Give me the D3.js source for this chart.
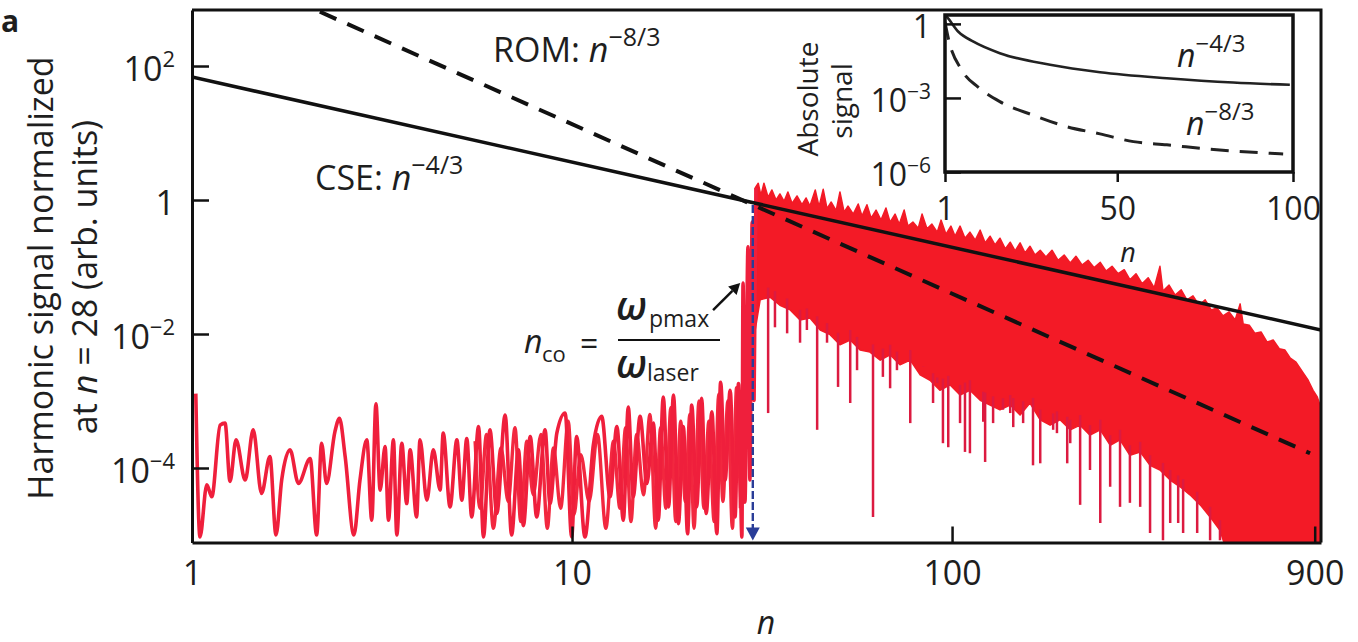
<!DOCTYPE html>
<html><head><meta charset="utf-8">
<script src="https://cdn.jsdelivr.net/npm/d3@7"></script>
<style>
body{margin:0;background:#fff;}
svg{display:block;}
text{font-family:"Open Sans",sans-serif;fill:#1e1e1e;}
</style>
</head><body>
<svg id="c" width="1358" height="642"></svg>
<script>
// ---------------- data ----------------
const xTicks = [1, 10, 100, 900];
const yTicks = [1e2, 1, 1e-2, 1e-4];
const yTickLabels = [["10","2"],["1",""],["10","−2"],["10","−4"]];

// CSE n^-4/3 and ROM n^-8/3 guide lines (end points)
const cseN = [1, 935], cseV = [68.5, 0.0115];
const romN = [2.17, 875], romV = [646, 1.66e-4];

// cut-off marker
const ncoN = 29.9, ncoTop = 0.84;
const arrowN = [23.5, 27.7], arrowV = [0.0228, 0.0577];

// spectrum below cut-off (log10 n, log10 signal)
const specLogN = [0.010,0.021,0.039,0.052,0.074,0.087,0.100,0.116,0.140,0.161,0.183,0.205,0.221,0.236,0.258,0.280,0.311,0.328,0.341,0.354,0.376,0.388,0.403,0.426,0.442,0.460,0.473,0.484,0.495,0.508,0.517,0.530,0.539,0.552,0.565,0.574,0.591,0.600,0.618,0.635,0.653,0.661,0.679,0.697,0.710,0.723,0.736,0.754,0.767,0.784,0.802,0.824,0.841,0.859,0.872,0.890,0.907,0.929,0.942,0.960,0.982,0.999,1.012,1.034,1.056,1.078,1.100,1.118,1.135,1.148,1.161,1.179,1.197,1.214,1.227,1.240,1.254,1.267,1.280,1.293,1.304,1.315,1.328,1.341,1.353,1.368,1.381,1.391,1.403,1.416,1.429,1.438,1.447,1.450,1.455,1.463,1.468,1.474,1.479,1.484];
const specLogS = [-2.89,-5.03,-4.25,-4.43,-3.36,-3.33,-4.20,-3.58,-4.18,-3.43,-4.38,-3.83,-5.00,-4.18,-3.73,-4.23,-3.86,-5.00,-3.63,-4.23,-3.46,-3.26,-3.83,-5.00,-4.18,-3.58,-4.78,-3.04,-4.33,-3.68,-4.78,-3.58,-5.00,-3.63,-4.53,-3.73,-4.73,-3.58,-4.48,-3.73,-4.33,-3.48,-4.58,-3.58,-4.48,-3.56,-4.73,-3.38,-5.03,-3.43,-4.68,-3.21,-5.00,-3.73,-4.86,-3.53,-4.73,-3.43,-4.53,-3.48,-3.18,-5.03,-3.53,-5.03,-3.66,-3.23,-4.43,-3.38,-4.78,-3.09,-4.43,-3.23,-4.23,-3.33,-4.78,-2.94,-4.58,-2.91,-4.83,-3.38,-4.98,-3.06,-4.58,-2.96,-4.68,-3.16,-4.98,-2.72,-4.18,-2.84,-4.73,-2.74,-5.03,-1.24,-4.51,-0.70,-4.18,-0.33,-2.99,0.18];
// denser oscillations underneath, 5 < n < 28
const spec2LogN = [0.745,0.758,0.775,0.793,0.813,0.832,0.850,0.865,0.881,0.898,0.918,0.935,0.951,0.970,0.990,1.005,1.023,1.045,1.067,1.089,1.109,1.126,1.141,1.155,1.170,1.188,1.205,1.220,1.233,1.247,1.260,1.273,1.286,1.298,1.310,1.321,1.334,1.347,1.360,1.374,1.386,1.397,1.410,1.422,1.433,1.443];
const spec2LogS = [-3.6,-4.6,-3.5,-4.9,-3.7,-4.5,-3.4,-4.8,-3.6,-4.4,-3.5,-4.9,-3.7,-4.6,-3.3,-4.7,-3.8,-4.5,-3.5,-4.9,-3.6,-4.6,-3.4,-4.8,-3.5,-4.4,-3.2,-4.9,-3.4,-4.6,-3.1,-4.8,-3.3,-4.5,-3.2,-4.9,-3.0,-4.6,-3.3,-4.8,-2.9,-4.5,-3.0,-4.9,-2.8,-4.6];

// spectrum above cut-off: upper envelope
const bandTopLogN = [1.482,1.490,1.497,1.505,1.516,1.526,1.537,1.547,1.558,1.568,1.579,1.592,1.605,1.616,1.626,1.640,1.650,1.661,1.671,1.682,1.695,1.705,1.716,1.726,1.740,1.753,1.763,1.776,1.787,1.800,1.813,1.826,1.837,1.850,1.861,1.874,1.884,1.897,1.911,1.921,1.934,1.947,1.961,1.971,1.984,1.997,2.008,2.021,2.034,2.047,2.061,2.074,2.087,2.100,2.113,2.126,2.140,2.153,2.166,2.179,2.192,2.205,2.218,2.232,2.247,2.263,2.279,2.295,2.311,2.326,2.342,2.358,2.374,2.390,2.405,2.421,2.437,2.453,2.468,2.484,2.500,2.516,2.532,2.547,2.555,2.571,2.587,2.603,2.618,2.634,2.650,2.666,2.682,2.697,2.713,2.729,2.745,2.758,2.766,2.782,2.797,2.813,2.829,2.845,2.861,2.876,2.890,2.905,2.924,2.937,2.950,2.961,2.968];
const bandTopLogS = [0.18,0.25,0.07,0.25,0.04,0.15,0.00,0.09,-0.02,0.12,-0.05,0.06,-0.07,0.03,-0.09,0.15,-0.10,0.16,-0.13,-0.03,-0.16,0.12,-0.18,-0.09,-0.21,-0.06,-0.24,-0.07,-0.27,-0.15,-0.30,-0.12,-0.33,-0.21,-0.36,-0.15,-0.39,-0.33,-0.42,-0.21,-0.43,-0.36,-0.48,-0.30,-0.51,-0.39,-0.54,-0.39,-0.57,-0.48,-0.60,-0.45,-0.64,-0.54,-0.67,-0.57,-0.73,-0.63,-0.76,-0.64,-0.79,-0.69,-0.82,-0.75,-0.85,-0.75,-0.90,-0.82,-0.94,-0.84,-0.97,-0.90,-1.01,-0.93,-1.06,-0.99,-1.10,-1.04,-1.19,-1.10,-1.25,-1.16,-1.31,-0.99,-1.36,-1.27,-1.42,-1.34,-1.49,-1.43,-1.57,-1.49,-1.64,-1.61,-1.73,-1.67,-1.79,-1.55,-1.85,-1.87,-1.99,-1.97,-2.12,-2.09,-2.22,-2.24,-2.36,-2.42,-2.58,-2.69,-2.84,-2.94,-3.06];
// spectrum above cut-off: lower edge of the dense part
const bandBotLogN = [1.482,1.495,1.521,1.547,1.574,1.600,1.626,1.653,1.679,1.705,1.732,1.758,1.784,1.811,1.837,1.863,1.890,1.916,1.942,1.968,1.995,2.021,2.047,2.074,2.100,2.126,2.153,2.179,2.205,2.232,2.258,2.284,2.311,2.337,2.363,2.390,2.416,2.442,2.468,2.495,2.521,2.547,2.574,2.600,2.626,2.653,2.679,2.705,2.726,2.97];
const bandBotLogS = [-1.94,-1.49,-1.45,-1.57,-1.64,-1.79,-1.76,-1.94,-2.01,-2.16,-2.09,-2.24,-2.27,-2.39,-2.31,-2.46,-2.39,-2.61,-2.69,-2.84,-2.76,-2.91,-2.84,-2.99,-3.06,-3.13,-3.06,-3.21,-3.03,-3.28,-3.36,-3.28,-3.43,-3.36,-3.51,-3.43,-3.66,-3.58,-3.81,-3.76,-3.96,-4.03,-4.18,-4.28,-4.40,-4.55,-4.73,-4.93,-5.3,-5.3];
// downward dips
const spikeLogN = [1.516,1.534,1.566,1.600,1.618,1.645,1.671,1.700,1.732,1.750,1.792,1.818,1.837,1.855,1.890,1.924,1.950,1.961,1.976,1.990,2.021,2.034,2.047,2.082,2.087,2.108,2.134,2.153,2.161,2.187,2.213,2.232,2.266,2.276,2.303,2.311,2.337,2.363,2.390,2.416,2.442,2.468,2.495,2.521,2.555,2.574,2.595,2.608,2.645,2.679,2.705];
const spikeLogS = [-3.18,-1.90,-1.99,-2.13,-1.94,-3.43,-2.13,-2.79,-3.03,-2.54,-4.73,-2.64,-2.81,-2.54,-3.33,-2.49,-3.03,-2.73,-3.63,-3.69,-3.33,-3.76,-3.78,-3.31,-3.91,-3.33,-3.13,-3.18,-3.39,-3.33,-3.96,-3.93,-3.43,-3.48,-3.93,-3.63,-4.55,-4.03,-4.82,-4.28,-4.58,-4.52,-4.58,-4.97,-5.08,-4.82,-4.82,-4.97,-4.97,-5.08,-5.08];

// inset
const insetXTicks = [1, 50, 100];
const insetYTicks = [1, 1e-3, 1e-6];
const insetYLabels = [["1",""],["10","−3"],["10","−6"]];
const insetSolidN = [1, 1.48, 4.8, 9.1, 16.6, 30.9, 45.1, 64.1, 83.0, 99.1];
const insetSolidV = [2.3, 1.95, 0.48, 0.19, 0.065, 0.022, 0.011, 0.0063, 0.0042, 0.0034];
const insetDashN = [1, 1.95, 5.74, 10.5, 16.6, 26.1, 35.6, 45.1, 54.6, 64.1, 78.3, 97.2];
const insetDashV = [1.2, 0.26, 0.0135, 0.0027, 7.1e-4, 2.0e-4, 6.9e-5, 3.5e-5, 1.7e-5, 1.26e-5, 7.9e-6, 5.4e-6];

// ---------------- drawing ----------------
const svg = d3.select("#c");
const P = {l:192, r:1321, t:10, b:542.5};
const x = d3.scaleLog().domain([1, 935]).range([P.l, P.r]);
const y = d3.scaleLog().domain([Math.pow(10,-5.112), Math.pow(10,2.836)]).range([P.b, P.t]);
const p10 = v => Math.pow(10, v);

svg.append("defs").append("clipPath").attr("id","clip")
  .append("rect").attr("x",P.l).attr("y",P.t).attr("width",P.r-P.l).attr("height",P.b-P.t);
const plot = svg.append("g").attr("clip-path","url(#clip)");

const RED = "#f31a26";
const topPts = bandTopLogN.map((n,i)=>[p10(n), p10(bandTopLogS[i])]);
const botPts = bandBotLogN.map((n,i)=>[p10(n), p10(bandBotLogS[i])]);
const poly = topPts.concat(botPts.slice().reverse());
const lineXY = d3.line().x(d=>x(d[0])).y(d=>y(d[1]));
const smoothXY = d3.line().x(d=>x(d[0])).y(d=>y(d[1])).curve(d3.curveMonotoneX);

plot.append("path")
  .attr("d", smoothXY(spec2LogN.map((n,i)=>[p10(n), p10(spec2LogS[i])])))
  .attr("fill","none").attr("stroke","#f2283f").attr("stroke-width",3.4).attr("stroke-linejoin","round");

plot.append("path").attr("d", lineXY(poly)+"Z").attr("fill",RED).attr("stroke",RED).attr("stroke-width",1.5).attr("stroke-linejoin","round");

const botInterp = d3.scaleLinear().domain(bandBotLogN).range(bandBotLogS);
plot.append("g").selectAll("line").data(spikeLogN.map((n,i)=>[n, spikeLogS[i]]))
  .join("line")
  .attr("x1", d=>x(p10(d[0]))).attr("x2", d=>x(p10(d[0])))
  .attr("y1", d=>y(p10(botInterp(d[0])+0.15))).attr("y2", d=>y(p10(d[1])))
  .attr("stroke","#dc1a40").attr("stroke-width",2.5);

plot.append("path")
  .attr("d", smoothXY(specLogN.map((n,i)=>[p10(n), p10(specLogS[i])])))
  .attr("fill","none").attr("stroke","#ef1f3c").attr("stroke-width",3.6).attr("stroke-linejoin","round");

plot.append("path").attr("d", lineXY(cseN.map((n,i)=>[n,cseV[i]])))
  .attr("fill","none").attr("stroke","#111").attr("stroke-width",3.5);
plot.append("path").attr("d", lineXY(romN.map((n,i)=>[n,romV[i]])))
  .attr("fill","none").attr("stroke","#111").attr("stroke-width",4).attr("stroke-dasharray","18,12");

const BLUE = "#2a3d98";
svg.append("line").attr("x1",x(ncoN)).attr("x2",x(ncoN)).attr("y1",y(ncoTop)).attr("y2",P.b-12)
  .attr("stroke",BLUE).attr("stroke-width",2.4).attr("stroke-dasharray","8,3");
svg.append("path")
  .attr("d",`M${x(ncoN)-7},${P.b-15}L${x(ncoN)+7},${P.b-15}L${x(ncoN)},${P.b-2}Z`)
  .attr("fill",BLUE);

{
  const x1=x(arrowN[0]), y1=y(arrowV[0]), x2=x(arrowN[1]), y2=y(arrowV[1]);
  const ang=Math.atan2(y2-y1,x2-x1), L=11, W=6;
  const bx=x2-L*Math.cos(ang), by=y2-L*Math.sin(ang);
  svg.append("line").attr("x1",x1).attr("y1",y1).attr("x2",bx).attr("y2",by).attr("stroke","#111").attr("stroke-width",2.5);
  svg.append("path").attr("d",`M${x2},${y2}L${bx+W*Math.sin(ang)},${by-W*Math.cos(ang)}L${bx-W*Math.sin(ang)},${by+W*Math.cos(ang)}Z`).attr("fill","#111");
}

const gx = svg.append("g").attr("transform",`translate(0,${P.b})`)
  .call(d3.axisBottom(x).tickValues(xTicks).tickFormat(d3.format("d")).tickSizeInner(-16).tickSizeOuter(0).tickPadding(18));
const gy = svg.append("g").attr("transform",`translate(${P.l},0)`)
  .call(d3.axisLeft(y).tickValues(yTicks).tickSizeInner(-17).tickSizeOuter(0).tickPadding(17));
[gx,gy].forEach(g=>{
  g.select(".domain").attr("stroke","#111").attr("stroke-width",3);
  g.selectAll(".tick line").attr("stroke","#111").attr("stroke-width",2.5);
  g.selectAll("text").attr("font-size",34).attr("fill","#1e1e1e").attr("font-family","Open Sans");
});
gy.selectAll(".tick text").each(function(d,i){
  const t=d3.select(this); t.text(null).attr("dy","0.42em");
  t.append("tspan").text(yTickLabels[i][0]);
  if(yTickLabels[i][1]) t.append("tspan").attr("font-size",22).attr("dy","-0.62em").text(yTickLabels[i][1]);
});
svg.append("path").attr("d",`M${P.l},${P.t}H${P.r}V${P.b}`).attr("fill","none").attr("stroke","#111").attr("stroke-width",3);

svg.append("text").attr("x",1).attr("y",32).attr("font-size",30).attr("font-weight",700).text("a");
svg.append("text").attr("transform","translate(53,278) rotate(-90)").attr("text-anchor","middle").attr("font-size",34)
  .text("Harmonic signal normalized");
{
  const t=svg.append("text").attr("transform","translate(97,277) rotate(-90)").attr("text-anchor","middle").attr("font-size",34);
  t.append("tspan").text("at ");
  t.append("tspan").attr("font-style","italic").text("n");
  t.append("tspan").text(" = 28 (arb. units)");
}
svg.append("text").attr("x",766).attr("y",634).attr("text-anchor","middle").attr("font-size",32).attr("font-style","italic").text("n");

function powLabel(xp, yp, pre, sup, fs, sfs){
  const t=svg.append("text").attr("x",xp).attr("y",yp).attr("font-size",fs);
  if(pre) t.append("tspan").text(pre);
  t.append("tspan").attr("font-style","italic").text("n");
  t.append("tspan").attr("font-size",sfs).attr("dy",-fs*0.48).text(sup);
  return t;
}
powLabel(493,62,"ROM: ","−8/3",34,25);
powLabel(315,190,"CSE: ","−4/3",34,25);

svg.append("text").attr("x",524).attr("y",353).attr("font-size",32).attr("font-style","italic").text("n");
svg.append("text").attr("x",542).attr("y",362).attr("font-size",22).text("co");
svg.append("text").attr("x",580).attr("y",355).attr("font-size",32).text("=");
svg.append("line").attr("x1",618).attr("x2",720).attr("y1",340).attr("y2",340).attr("stroke","#111").attr("stroke-width",2.2);
svg.append("text").attr("x",616).attr("y",320).attr("font-size",40).attr("font-style","italic").attr("font-weight",600).text("ω");
svg.append("text").attr("x",649).attr("y",327).attr("font-size",23).text("pmax");
svg.append("text").attr("x",616).attr("y",378).attr("font-size",40).attr("font-style","italic").attr("font-weight",600).text("ω");
svg.append("text").attr("x",647).attr("y",381).attr("font-size",23).text("laser");

const I = {l:945, r:1293, t:15, b:172};
const ix = d3.scaleLinear().domain([1,100]).range([I.l,I.r]);
const iy = d3.scaleLog().domain([Math.pow(10,0.36), 1e-6]).range([I.t,I.b]);
svg.append("rect").attr("x",I.l).attr("y",I.t).attr("width",I.r-I.l).attr("height",I.b-I.t).attr("fill","#fff");
svg.append("defs").append("clipPath").attr("id","iclip").append("rect").attr("x",I.l).attr("y",I.t).attr("width",I.r-I.l).attr("height",I.b-I.t);
const ig = svg.append("g").attr("clip-path","url(#iclip)");
const iline = d3.line().x(d=>ix(d[0])).y(d=>iy(d[1])).curve(d3.curveMonotoneX);
ig.append("path").attr("d",iline(insetSolidN.map((n,i)=>[n,insetSolidV[i]]))).attr("fill","none").attr("stroke","#222").attr("stroke-width",2.6);
ig.append("path").attr("d",iline(insetDashN.map((n,i)=>[n,insetDashV[i]]))).attr("fill","none").attr("stroke","#222").attr("stroke-width",3).attr("stroke-dasharray","18,11");
svg.append("rect").attr("x",I.l).attr("y",I.t).attr("width",I.r-I.l).attr("height",I.b-I.t).attr("fill","none").attr("stroke","#111").attr("stroke-width",3.5);

const igx = svg.append("g").attr("transform",`translate(0,${I.b})`)
  .call(d3.axisBottom(ix).tickValues(insetXTicks).tickFormat(d3.format("d")).tickSizeInner(10).tickSizeOuter(0).tickPadding(15));
const igy = svg.append("g").attr("transform",`translate(${I.l},0)`)
  .call(d3.axisLeft(iy).tickValues(insetYTicks).tickSizeInner(-16).tickSizeOuter(0).tickPadding(14));
[igx,igy].forEach(g=>{
  g.select(".domain").attr("stroke","none");
  g.selectAll(".tick line").attr("stroke","#111").attr("stroke-width",2.5);
  g.selectAll("text").attr("font-size",32).attr("fill","#1e1e1e").attr("font-family","Open Sans");
});
igy.selectAll(".tick text").each(function(d,i){
  const t=d3.select(this); t.text(null).attr("dy","0.42em");
  t.append("tspan").text(insetYLabels[i][0]);
  if(insetYLabels[i][1]) t.append("tspan").attr("font-size",21).attr("dy","-0.62em").text(insetYLabels[i][1]);
});
svg.append("text").attr("x",1128).attr("y",262).attr("text-anchor","middle").attr("font-size",27).attr("font-style","italic").text("n");
svg.append("text").attr("transform","translate(818,99) rotate(-90)").attr("text-anchor","middle").attr("font-size",28).text("Absolute");
svg.append("text").attr("transform","translate(852,101) rotate(-90)").attr("text-anchor","middle").attr("font-size",28).text("signal");
powLabel(1177,67,"","−4/3",32,24);
powLabel(1186,135,"","−8/3",32,24);
</script>
</body></html>
